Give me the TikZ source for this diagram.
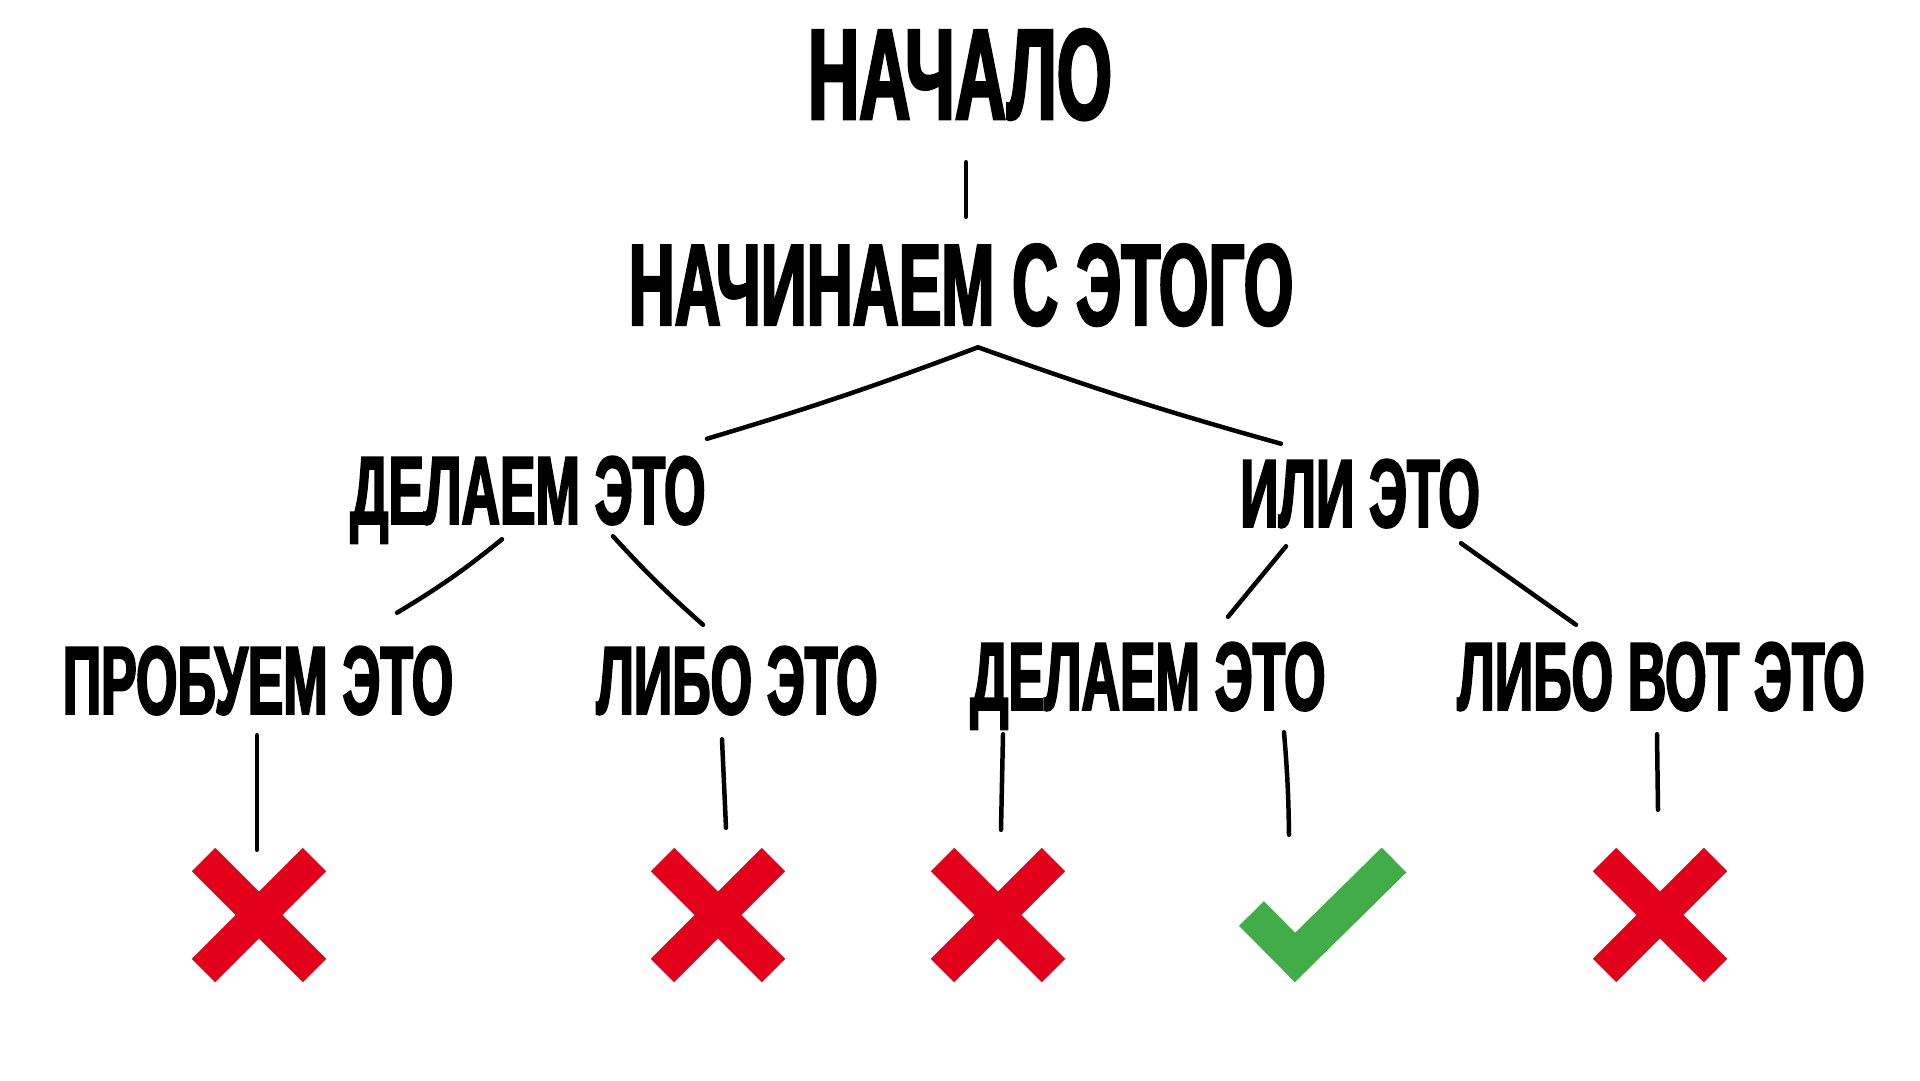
\documentclass[tikz,border=0pt]{standalone}
\usepackage{fontspec}
\newfontfamily\posterfont[FakeStretch=0.55,FakeBold=2]{Liberation Sans}
\definecolor{nopered}{HTML}{E2001A}
\definecolor{yesgreen}{HTML}{41AD49}
\tikzset{
    title/.style={font=\posterfont\bfseries\fontsize{129}{129}\selectfont, anchor=base, inner sep=0pt, text height=89pt, text depth=0pt},
    first step/.style={font=\posterfont\bfseries\fontsize{116}{116}\selectfont, anchor=base, inner sep=0pt, text height=80pt, text depth=0pt},
    choice/.style={font=\posterfont\bfseries\fontsize{97}{97}\selectfont, anchor=base, inner sep=0pt, text height=67pt, text depth=0pt},
    nope/.style={minimum size=134pt, inner sep=0pt, path picture={
        \draw[nopered, line width=33pt, line cap=butt] ([shift={(-55.5,-55.5)}]path picture bounding box.center) -- ([shift={(55.5,55.5)}]path picture bounding box.center);
        \draw[nopered, line width=33pt, line cap=butt] ([shift={(-55.5,55.5)}]path picture bounding box.center) -- ([shift={(55.5,-55.5)}]path picture bounding box.center);}},
    yes/.style={minimum width=170pt, minimum height=134pt, inner sep=0pt, path picture={
        \draw[yesgreen, line width=35pt, line cap=butt, line join=miter] ([shift={(-71.5,-1.5)}]path picture bounding box.center) -- ([shift={(-28,42.5)}]path picture bounding box.center) -- ([shift={(71,-55)}]path picture bounding box.center);}}
}
\begin{document}
\begin{tikzpicture}[x=1pt, y=-1pt, line width=4.5pt, line cap=round]
    \useasboundingbox (0, 0) rectangle (1920, 1080);

    \node (top) at (960, 119) [title] {НАЧАЛО};
    \node (begin) at (961, 325) [first step] {НАЧИНАЕМ С ЭТОГО};
    \coordinate (fork) at ([shift={(17,20)}]begin.south);

    \node (doA) at (528, 524) [choice] {ДЕЛАЕМ ЭТО};
    \node (orB) at (1360, 527) [choice] {ИЛИ ЭТО};

    \node (tryA) at (258, 714) [choice] {ПРОБУЕМ ЭТО};
    \node (eitherA) at (737, 714) [choice] {ЛИБО ЭТО};
    \node (doB) at (1148, 710) [choice] {ДЕЛАЕМ ЭТО};
    \node (eitherB) at (1661, 710) [choice] {ЛИБО ВОТ ЭТО};

    \node (noA) at (259, 915) [nope] {};
    \node (noB) at (718, 915) [nope] {};
    \node (noC) at (998, 915) [nope] {};
    \node (ok) at (1323, 915) [yes] {};
    \node (noD) at (1660, 915) [nope] {};

    \draw ([shift={(6,41)}]top.south) -- ([shift={(5,-26)}]begin.north);
    \draw (fork) to[bend left=2] ([shift={(179,-16)}]doA.north);
    \draw (fork) to[bend right=2] ([shift={(-79,-14)}]orB.north);

    \draw ([shift={(-26,13)}]doA.south) to[bend left=4] ([shift={(139,-32)}]tryA.north);
    \draw ([shift={(85,10)}]doA.south) to[bend right=3] ([shift={(-34,-20)}]eitherA.north);
    \draw ([shift={(-74,17)}]orB.south) -- ([shift={(80,-24)}]doB.north);
    \draw ([shift={(101,14)}]orB.south) -- ([shift={(-85,-16)}]eitherB.north);

    \draw ([shift={(-1,19)}]tryA.south) -- ([shift={(-2,4)}]noA.north);
    \draw ([shift={(-15,23)}]eitherA.south) -- ([shift={(8,-18)}]noB.north);
    \draw ([shift={(-145,22)}]doB.south) -- ([shift={(3,-16)}]noC.north);
    \draw ([shift={(136,20)}]doB.south) to[bend left=2] ([shift={(-34,-11)}]ok.north);
    \draw ([shift={(-4,22)}]eitherB.south) -- ([shift={(-2,-36)}]noD.north);
\end{tikzpicture}
\end{document}
